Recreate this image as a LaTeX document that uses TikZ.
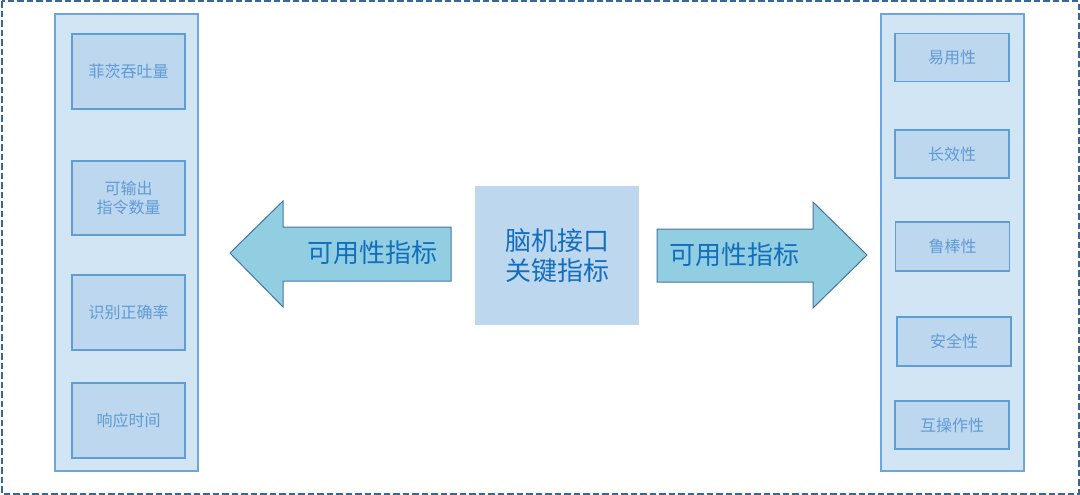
\documentclass[tikz,border=0pt]{standalone}
\usepackage{fontspec}
\setmainfont{Noto Sans CJK SC}
\usetikzlibrary{positioning}

\definecolor{frameblue}{RGB}{58,102,150}
\definecolor{panelfill}{RGB}{209,229,244}
\definecolor{panelline}{RGB}{108,166,220}
\definecolor{itemfill}{RGB}{189,215,238}
\definecolor{itemline}{RGB}{95,157,214}
\definecolor{itemtext}{RGB}{95,155,213}
\definecolor{arrowfill}{RGB}{146,206,225}
\definecolor{arrowline}{RGB}{70,116,160}
\definecolor{keytext}{RGB}{20,110,190}

\tikzset{
  panel/.style={draw=panelline, fill=panelfill, line width=1.2pt},
  item/.style={draw=itemline, fill=itemfill, line width=1.2pt, text=itemtext,
    font=\fontsize{16}{19}\selectfont, align=center, inner sep=0pt},
  keylabel/.style={text=keytext, font=\fontsize{26}{30}\selectfont, align=center},
  bigarrow/.style={draw=arrowline, fill=arrowfill, line width=1pt, line join=miter}
}

\begin{document}
\begin{tikzpicture}[x=1pt, y=-1pt]
  \useasboundingbox (0,0) rectangle (1080,495);

  % === Outer frame ===
  \draw[frameblue, line width=2pt, dash pattern=on 6.5pt off 3pt] (1.5,1.5) rectangle (1078.5,493.5);

  % === Left panel ===
  \draw[panel] (55,14) rectangle (198,471);
  \node[item, minimum width=113pt, minimum height=75pt] (fitts) at (128.5,71.5) {菲茨吞吐量};
  \node[item, minimum width=113pt, minimum height=74pt] (cmds) at (128.5,198) {可输出\\指令数量};
  \node[item, minimum width=113pt, minimum height=75pt] (acc) at (128.5,312.5) {识别正确率};
  \node[item, minimum width=113pt, minimum height=75pt] (resp) at (128.5,420.5) {响应时间};

  % === Right panel ===
  \draw[panel] (881,14) rectangle (1024,471);
  \node[item, minimum width=114pt, minimum height=48pt] (ease) at (952,57.5) {易用性};
  \node[item, minimum width=114pt, minimum height=48pt] (dur) at (952,154) {长效性};
  \node[item, minimum width=114pt, minimum height=49pt] (rob) at (952.5,246.5) {鲁棒性};
  \node[item, minimum width=114pt, minimum height=49pt] (safe) at (954,341.5) {安全性};
  \node[item, minimum width=114pt, minimum height=48pt] (inter) at (952,425) {互操作性};

  % === Centre block ===
  \node[fill=itemfill, minimum width=164pt, minimum height=139pt, inner sep=0pt] (bci) at (557,255.5) {};
  \node[keylabel] at (bci) {脑机接口\\关键指标};

  % === Left arrow ===
  \draw[bigarrow] (451,227) -- (283,227) -- (283,201) -- (230,253)
    -- (283,307) -- (283,281) -- (451,281) -- cycle;
  \node[keylabel] (usel) at (372,253) {可用性指标};

  % === Right arrow ===
  \draw[bigarrow] (657,229) -- (813,229) -- (813,202) -- (867,255)
    -- (813,308) -- (813,282) -- (657,282) -- cycle;
  \node[keylabel] (user) at (734,255) {可用性指标};

\end{tikzpicture}
\end{document}
